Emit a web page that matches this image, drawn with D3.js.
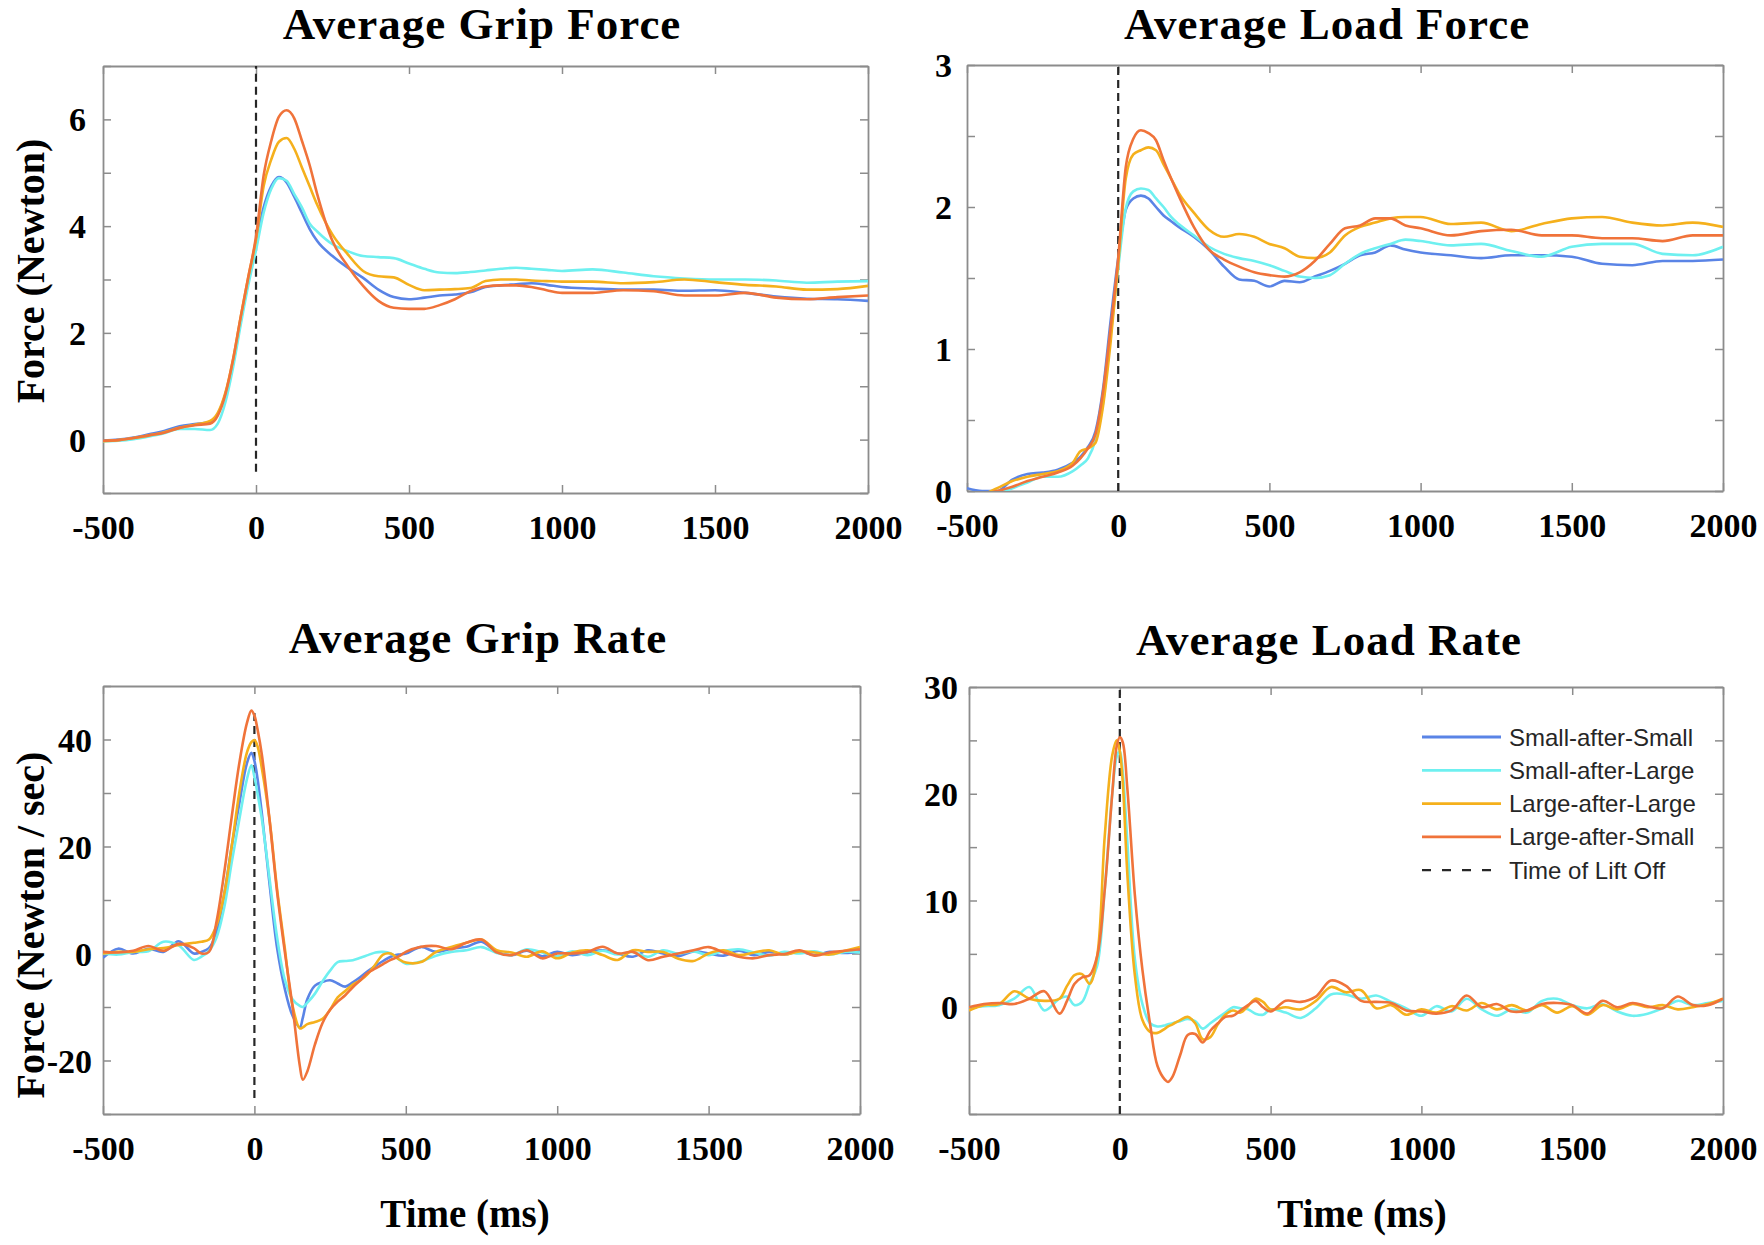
<!DOCTYPE html>
<html><head><meta charset="utf-8">
<script src="https://cdn.jsdelivr.net/npm/d3@7"></script>
<style>
body{margin:0;background:#fff;}
svg text.serif{font-family:"Liberation Serif","Times New Roman",serif;font-weight:bold;fill:#000;}
</style></head><body>
<svg id="chart" width="1764" height="1245"></svg>
<script>
// ---------------- DATA ----------------
const seriesNames = ["Small-after-Small","Small-after-Large","Large-after-Large","Large-after-Small"];
const liftOffLabel = "Time of Lift Off";
const xTickValues = [-500,0,500,1000,1500,2000];

const timeForce = [-500,-450,-400,-350,-300,-250,-200,-150,
  -125,-100,-75,-50,-25,0,25,50,75,100,125,150,175,200,
  250,300,350,400,450,500,550,600,650,700,750,800,850,900,950,1000,
  1100,1200,1300,1400,1500,1600,1700,1800,1900,2000];

const gripForceSS = [-0.02,0.0,0.04,0.1,0.16,0.25,0.29,0.33,
  0.48,0.85,1.45,2.25,3.0,3.7,4.35,4.75,4.92,4.82,4.55,4.25,3.95,3.72,
  3.44,3.22,3.03,2.81,2.67,2.63,2.66,2.7,2.72,2.76,2.86,2.89,2.91,2.93,2.9,2.86,
  2.83,2.81,2.81,2.79,2.8,2.75,2.68,2.64,2.63,2.6];
const gripForceSL = [-0.03,-0.02,0.01,0.06,0.12,0.2,0.2,0.18,
  0.3,0.7,1.35,2.15,2.9,3.55,4.25,4.7,4.9,4.85,4.6,4.35,4.05,3.9,
  3.66,3.53,3.44,3.42,3.4,3.3,3.2,3.13,3.12,3.14,3.17,3.2,3.22,3.2,3.18,3.16,
  3.19,3.13,3.06,3.02,3.0,3.0,2.98,2.94,2.96,2.97];
const gripForceLL = [-0.03,-0.01,0.03,0.08,0.14,0.22,0.28,0.35,
  0.5,0.88,1.5,2.3,3.05,3.75,4.75,5.25,5.58,5.65,5.45,5.1,4.75,4.4,
  3.84,3.47,3.16,3.06,3.04,2.9,2.8,2.81,2.82,2.84,2.97,3.0,3.0,2.98,2.97,2.96,
  2.96,2.93,2.95,3.0,2.95,2.9,2.87,2.81,2.82,2.88];
const gripForceLS = [-0.02,-0.01,0.03,0.08,0.13,0.22,0.27,0.3,
  0.45,0.85,1.5,2.3,3.05,3.8,4.95,5.6,6.05,6.17,6.02,5.6,5.15,4.6,
  3.72,3.25,2.88,2.6,2.47,2.45,2.45,2.52,2.63,2.78,2.87,2.89,2.89,2.86,2.8,2.75,
  2.75,2.8,2.78,2.7,2.7,2.75,2.66,2.63,2.67,2.7];

const loadForceSS = [0.02,0.0,0.0,0.08,0.12,0.13,0.15,0.2,
  0.24,0.31,0.42,0.72,1.2,1.64,1.98,2.06,2.08,2.06,2.0,1.94,1.9,1.86,
  1.79,1.7,1.58,1.49,1.48,1.44,1.48,1.47,1.51,1.55,1.6,1.66,1.68,1.73,1.7,1.68,
  1.66,1.64,1.66,1.66,1.65,1.6,1.59,1.62,1.62,1.63];
const loadForceSL = [-0.02,-0.03,-0.02,0.02,0.06,0.1,0.1,0.14,
  0.18,0.23,0.36,0.62,1.1,1.57,1.99,2.11,2.13,2.12,2.06,2.0,1.93,1.88,
  1.8,1.72,1.67,1.64,1.62,1.59,1.55,1.51,1.5,1.52,1.6,1.67,1.71,1.74,1.77,1.76,
  1.73,1.74,1.69,1.65,1.72,1.74,1.74,1.67,1.66,1.72];
const loadForceLL = [-0.02,-0.02,0.02,0.07,0.1,0.12,0.14,0.2,
  0.28,0.3,0.34,0.6,1.05,1.6,2.2,2.37,2.4,2.42,2.4,2.3,2.2,2.1,
  1.96,1.84,1.79,1.81,1.79,1.74,1.71,1.65,1.64,1.68,1.8,1.86,1.89,1.92,1.93,1.93,
  1.88,1.89,1.83,1.88,1.92,1.93,1.89,1.87,1.89,1.86];
const loadForceLS = [-0.02,-0.02,0.0,0.03,0.07,0.1,0.13,0.18,
  0.23,0.3,0.4,0.7,1.15,1.64,2.28,2.48,2.54,2.52,2.47,2.33,2.2,2.08,
  1.86,1.7,1.63,1.58,1.54,1.52,1.51,1.54,1.62,1.74,1.85,1.87,1.92,1.92,1.87,1.85,
  1.8,1.83,1.84,1.8,1.8,1.78,1.78,1.76,1.8,1.8];

const timeRate = [-500,-450,-400,-350,-300,-250,-200,
  -175,-150,-125,-100,-75,-50,-25,
  -10,0,10,
  25,50,75,100,125,150,
  160,
  175,200,225,250,275,300,325,350,375,400,425,450,475,500,
  550,600,650,700,750,800,850,900,950,1000,1050,1100,1150,1200,1250,1300,1350,1400,1450,1500,
  1550,1600,1650,1700,1750,1800,1850,1900,1950,2000];

const gripRateSS = [-0.8,0.9,0.0,0.9,0.3,2.3,0.0,
  0.3,1.0,4.0,11,20,28,35.5,
  37.5,36,32.8,
  26,13,1,-6.5,-11.5,-13.8,
  -12,
  -8.5,-6,-5.3,-5,-5.6,-6.2,-5.4,-4.4,-3.3,-2.3,-1.4,-0.6,-0.2,0.0,
  1.2,0.3,0.9,1.25,2.2,0.3,-0.3,0.5,-0.5,0.3,-0.3,0.2,0.6,0.0,-0.6,0.6,0.0,-0.5,0.4,0.0,
  -0.4,0.5,-0.3,0.3,-0.2,0.4,-0.3,0.3,0.1,0.4];
const gripRateSL = [0.0,-0.2,0.3,0.4,2.2,1.5,-1.2,
  -0.6,0.5,3,8.5,17,25,32.5,
  35.2,33,30,
  25,14,3,-4.8,-8.5,-9.8,
  -10,
  -9.2,-7.5,-5.2,-3.2,-1.6,-1.4,-1.25,-0.8,-0.3,0.2,0.3,0.0,-1.0,-1.9,
  -1.5,-0.4,0.3,0.6,1.2,0.1,-0.3,0.8,0.2,-0.5,0.4,-0.3,0.5,-0.2,0.3,-0.6,0.6,0.0,0.4,-0.3,
  0.5,0.8,0.2,-0.4,0.3,0.0,0.4,-0.2,0.3,0.2];
const gripRateLL = [0.0,0.3,0.3,0.8,1.0,1.6,2.0,
  2.2,2.6,5.3,11,20,30,37.5,
  39.5,39.9,38.8,
  34.5,25,12,1.2,-9.5,-14,
  -13.8,
  -13.2,-12.8,-12.2,-10.5,-8.2,-7,-5.8,-5,-3.8,-2,-0.2,0.0,-1.0,-1.7,
  -1.6,0.3,1.2,2.0,2.6,0.6,0.2,-0.6,0.4,-0.9,0.2,0.6,-0.3,-1.2,0.6,0.3,0.3,-1.0,-1.4,0.0,
  0.6,-0.3,0.2,0.6,-0.2,0.4,0.2,-0.2,0.5,1.2];
const gripRateLS = [0.3,0.2,0.5,1.4,0.5,1.8,1.0,
  0.0,0.3,6,15,25.5,35.5,43,
  45.4,44.5,42,
  37,25,11.5,0.5,-9.5,-21,
  -23.6,
  -22,-17,-13,-10.5,-9,-7.8,-6.3,-5,-3.6,-2.8,-2,-1.2,-0.6,0.3,
  1.25,1.4,0.8,2.0,2.6,0.2,-0.3,0.6,-0.9,0.0,0.0,0.3,1.25,0.0,0.3,-1.25,-0.6,0.0,0.6,1.2,
  0.2,-0.6,-0.9,-0.3,-0.1,0.6,-0.4,0.2,0.5,0.8];

const loadRateSL = [0.0,0.1,0.2,0.8,1.9,-0.3,0.8,
  1.0,0.2,0.5,2.2,3.9,11,20,
  23.5,24,22,
  15.5,4.5,0.3,-1.5,-1.8,-1.7,
  -1.6,
  -1.5,-1.3,-1.1,-1.3,-2.0,-1.5,-1.0,-0.5,0.0,-0.1,-0.2,-0.6,-0.7,-0.2,
  -0.5,-1.0,-0.1,1.2,1.2,0.8,1.1,0.5,-0.1,-0.8,0.1,-0.4,0.8,-0.2,-0.8,-0.2,-0.5,0.6,0.8,0.2,
  -0.1,0.3,-0.4,-0.8,-0.6,-0.1,0.6,0.2,0.4,0.6];
const loadRateLL = [-0.3,0.2,0.3,1.5,0.8,0.6,0.8,
  2.0,3.0,3.1,2.2,4.8,16,23.6,
  25.0,24.0,21,
  12.5,3,-1.2,-2.3,-2.4,-2.0,
  -1.8,
  -1.6,-1.2,-0.9,-1.5,-3.0,-2.8,-1.6,-0.7,-0.3,-0.5,0.1,0.8,0.5,-0.2,
  0.0,-0.2,0.6,1.9,1.4,1.6,-0.1,0.2,-0.7,-0.2,-0.5,0.1,-0.3,0.4,-0.2,0.2,-0.3,0.2,-0.5,0.1,
  -0.7,0.2,-0.2,0.3,0.0,0.2,-0.2,0.0,0.3,0.8];
const loadRateLS = [0.0,0.3,0.4,0.3,0.8,1.5,-0.6,
  0.6,2.2,2.8,3.0,4.8,11,20,
  24.5,25.3,24.8,
  20.5,10.5,3.5,-1.5,-5.5,-6.8,
  -7.0,
  -6.5,-4.5,-2.6,-2.5,-3.3,-2.2,-1.5,-0.9,-0.8,-0.3,0.2,0.6,0.0,-0.4,
  0.6,0.5,1.0,2.5,2.0,0.6,0.5,0.4,-0.3,-0.4,-0.6,-0.3,1.1,0.0,0.3,-0.4,-0.3,0.3,0.4,0.2,
  -0.6,0.6,0.0,0.4,0.1,-0.1,1.0,0.2,0.2,0.8];

// ---------------- STYLE / LAYOUT ----------------
const colors = ["#5a84e6","#6ef0f0","#f5b01c","#f0733a"];
const frameColor = "#8c8c8c";

const panels = [
  {title:"Average Grip Force", l:103, r:868, t:66, b:493, yDomain:[-1,7], yStep:1, yLabels:[0,2,4,6],
   time:timeForce, series:[gripForceSS,gripForceSL,gripForceLL,gripForceLS], curve:d3.curveMonotoneX,
   lift:[-0.6,7], titleX:482, titleY:39, ylabel:"Force (Newton)", ylabelY:271, gap:17},
  {title:"Average Load Force", l:967, r:1723, t:65, b:491, yDomain:[0,3], yStep:0.5, yLabels:[0,1,2,3],
   time:timeForce, series:[loadForceSS,loadForceSL,loadForceLL,loadForceLS], curve:d3.curveMonotoneX,
   lift:[0,3], titleX:1327, titleY:39, gap:15},
  {title:"Average Grip Rate", l:103, r:860, t:686, b:1114, yDomain:[-30,50], yStep:10, yLabels:[-20,0,20,40],
   time:timeRate, series:[gripRateSS,gripRateSL,gripRateLL,gripRateLS], curve:d3.curveCatmullRom.alpha(0.5),
   lift:[-27,45], titleX:478, titleY:653, ylabel:"Force (Newton / sec)", ylabelY:925, gap:11, xlabel:"Time (ms)", xlabelX:465},
  {title:"Average Load Rate", l:969, r:1723, t:687, b:1114, yDomain:[-10,30], yStep:5, yLabels:[0,10,20,30],
   time:timeRate, series:[null,loadRateSL,loadRateLL,loadRateLS], curve:d3.curveCatmullRom.alpha(0.5),
   lift:[-10,30], titleX:1329, titleY:655, gap:11, xlabel:"Time (ms)", xlabelX:1362, legend:true}
];

const svg = d3.select("#chart");
svg.append("rect").attr("width",1764).attr("height",1245).attr("fill","#fff");

panels.forEach((p,pi) => {
  const x = d3.scaleLinear().domain([-500,2000]).range([p.l,p.r]);
  const y = d3.scaleLinear().domain(p.yDomain).range([p.b,p.t]);
  const yTicks = d3.range(p.yDomain[0], p.yDomain[1] + p.yStep/2, p.yStep);
  const g = svg.append("g");

  const clipId = "clip"+pi;
  g.append("clipPath").attr("id",clipId).append("rect")
    .attr("x",p.l).attr("y",p.t).attr("width",p.r-p.l).attr("height",p.b-p.t);

  const styleAxis = sel => {
    sel.select(".domain").attr("stroke",frameColor).attr("stroke-width",1.8);
    sel.selectAll(".tick line").attr("stroke",frameColor).attr("stroke-width",1.5);
  };
  const bottom = g.append("g").attr("transform",`translate(0,${p.b})`)
    .call(d3.axisBottom(x).tickValues(xTickValues).tickSizeInner(-8).tickSizeOuter(0).tickFormat(d=>String(d)));
  styleAxis(bottom);
  bottom.selectAll(".tick text").attr("y",22).attr("dy","0.71em")
    .style("font-size","34px").style("font-family",'"Liberation Serif","Times New Roman",serif').style("font-weight","bold").attr("fill","#000");
  const top = g.append("g").attr("transform",`translate(0,${p.t})`)
    .call(d3.axisTop(x).tickValues(xTickValues).tickSizeInner(-8).tickSizeOuter(0).tickFormat(""));
  styleAxis(top);
  const left = g.append("g").attr("transform",`translate(${p.l},0)`)
    .call(d3.axisLeft(y).tickValues(yTicks).tickSizeInner(-8).tickSizeOuter(0)
      .tickFormat(d => p.yLabels.some(v => Math.abs(v-d)<1e-9) ? String(+d.toFixed(3)) : ""));
  styleAxis(left);
  left.selectAll(".tick text").attr("x",-p.gap).attr("dy","0.34em")
    .style("font-size","34px").style("font-family",'"Liberation Serif","Times New Roman",serif').style("font-weight","bold").attr("fill","#000");
  const right = g.append("g").attr("transform",`translate(${p.r},0)`)
    .call(d3.axisRight(y).tickValues(yTicks).tickSizeInner(-8).tickSizeOuter(0).tickFormat(""));
  styleAxis(right);

  // lift-off line
  g.append("line").attr("x1",x(0)).attr("x2",x(0)).attr("y1",y(p.lift[0])).attr("y2",y(p.lift[1]))
    .attr("stroke","#262626").attr("stroke-width",2.2).attr("stroke-dasharray","8,5");

  // series
  const line = d3.line().x((d,i)=>x(p.time[i])).y(d=>y(d)).curve(p.curve);
  const lg = g.append("g").attr("clip-path",`url(#${clipId})`);
  p.series.forEach((s,si) => {
    if (!s) return;
    lg.append("path").datum(s).attr("d",line).attr("fill","none")
      .attr("stroke",colors[si]).attr("stroke-width",2.6).attr("stroke-linejoin","round");
  });

  // titles & labels
  g.append("text").attr("class","serif").attr("x",p.titleX).attr("y",p.titleY)
    .attr("text-anchor","middle").style("font-size","45px").style("letter-spacing","1px").text(p.title);
  if (p.ylabel) {
    g.append("text").attr("class","serif").attr("transform",`translate(44,${p.ylabelY}) rotate(-90)`)
      .attr("text-anchor","middle").style("font-size","40px").text(p.ylabel);
  }
  if (p.xlabel) {
    g.append("text").attr("class","serif").attr("x",p.xlabelX).attr("y",1227)
      .attr("text-anchor","middle").style("font-size","39px").text(p.xlabel);
  }
  if (p.legend) {
    const items = seriesNames.map((n,i)=>({name:n,color:colors[i],dash:null})).concat([{name:liftOffLabel,color:"#262626",dash:"9,11"}]);
    const lgd = g.append("g");
    items.forEach((it,i) => {
      const cy = 737 + i*33.3;
      lgd.append("line").attr("x1",1422).attr("x2",1501).attr("y1",cy).attr("y2",cy)
        .attr("stroke",it.color).attr("stroke-width",it.dash?2.2:2.8).attr("stroke-dasharray",it.dash);
      lgd.append("text").attr("x",1509).attr("y",cy+8.5)
        .style("font-family",'"Liberation Sans",Arial,sans-serif').style("font-size","24px")
        .attr("fill","#262626").text(it.name);
    });
  }
});
</script>
</body></html>
